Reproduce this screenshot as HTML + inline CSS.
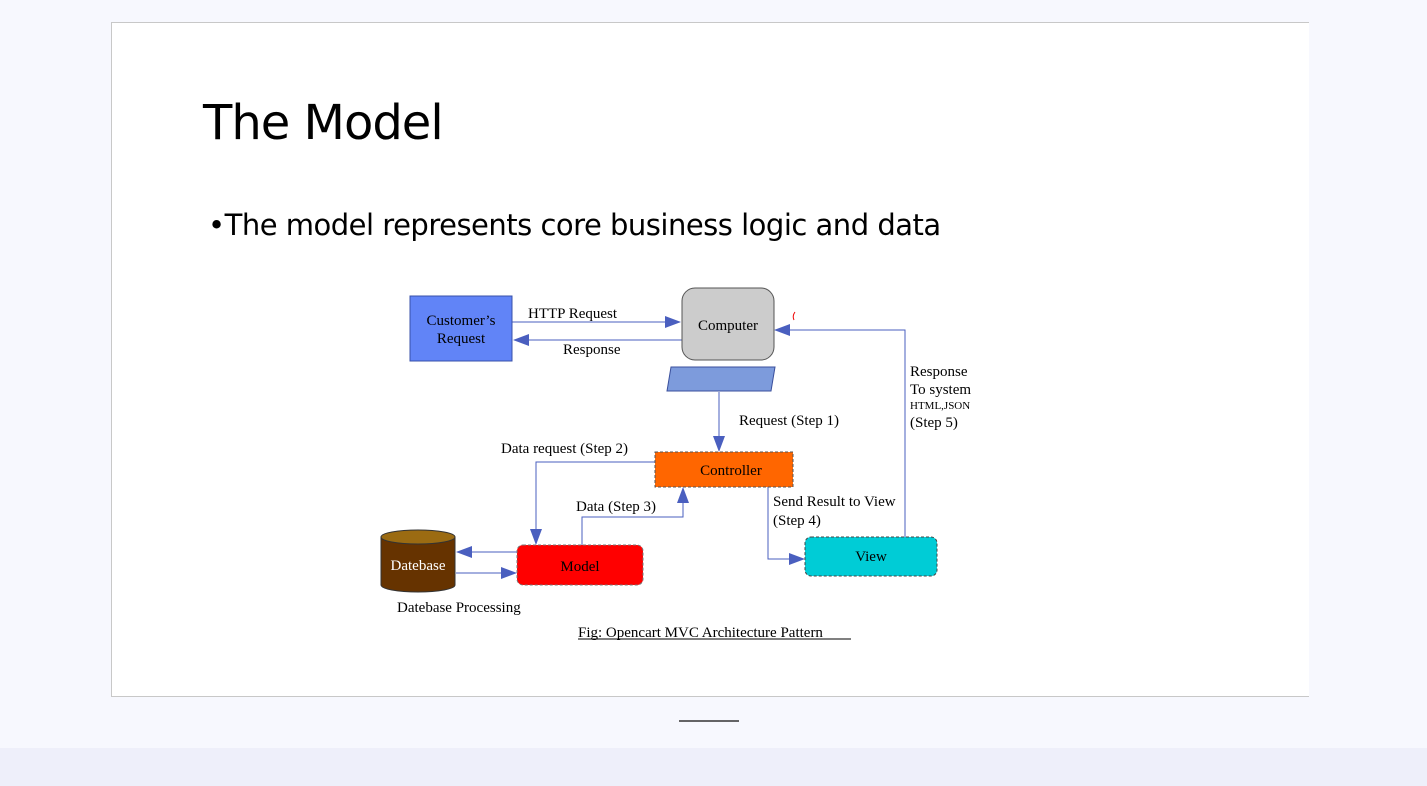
<!DOCTYPE html>
<html><head><meta charset="utf-8"><style>
html,body{margin:0;padding:0;width:1427px;height:786px;overflow:hidden;background:#f7f8fe;font-family:"Liberation Sans",sans-serif}
.band{position:absolute;left:0;top:748px;width:1427px;height:38px;background:#eeeffa}
.slide{position:absolute;left:111px;top:22px;width:1197px;height:673px;background:#fff;border:1px solid #c8c8c8;border-right:none}
.title{position:absolute;left:203px;top:95px;font-size:48px;color:#000;font-family:"DejaVu Sans","Liberation Sans",sans-serif;letter-spacing:-1px}
.bullet{position:absolute;left:208px;top:208px;font-size:29px;color:#000;font-family:"DejaVu Sans","Liberation Sans",sans-serif;letter-spacing:-0.5px}
svg{position:absolute;left:0;top:0}
svg text{font-family:"Liberation Serif",serif;font-size:15px;fill:#000}
</style></head><body>
<div class="band"></div>
<div class="slide"></div>
<div class="title">The Model</div>
<div class="bullet">•The model represents core business logic and data</div>
<svg width="1427" height="786" viewBox="0 0 1427 786">
<defs><marker id="a" markerWidth="16" markerHeight="12" refX="15" refY="6" orient="auto" markerUnits="userSpaceOnUse"><path d="M0,0L16,6L0,12z" fill="#4a5fbf"/></marker></defs>
<g stroke="#4a5fbf" stroke-width="1" fill="none">
<path d="M512,322H680" marker-end="url(#a)"/>
<path d="M682,340H514" marker-end="url(#a)"/>
<path d="M905,537V330H775" marker-end="url(#a)"/>
<path d="M719,392V451" marker-end="url(#a)"/>
<path d="M655,462H536V544" marker-end="url(#a)"/>
<path d="M582,545V517H683V488" marker-end="url(#a)"/>
<path d="M768,487V559H804" marker-end="url(#a)"/>
<path d="M517,552H457" marker-end="url(#a)"/>
<path d="M456,573H516" marker-end="url(#a)"/>
</g>
<rect x="410" y="296" width="102" height="65" fill="#6184f7" stroke="#3850a8"/>
<text x="461" y="325" text-anchor="middle">Customer’s</text>
<text x="461" y="343" text-anchor="middle">Request</text>
<rect x="682" y="288" width="92" height="72" rx="13" fill="#cccccc" stroke="#555"/>
<text x="728" y="330" text-anchor="middle">Computer</text>
<path d="M671,367H775L771,391H667z" fill="#7d9bdc" stroke="#3a4f9c"/>
<rect x="655" y="452" width="138" height="35" fill="#ff6600" stroke="#555" stroke-dasharray="3,2"/>
<text x="731" y="475" text-anchor="middle">Controller</text>
<rect x="517" y="545" width="126" height="40" rx="6" fill="#ff0000" stroke="#777" stroke-dasharray="3,2"/>
<text x="580" y="571" text-anchor="middle">Model</text>
<rect x="805" y="537" width="132" height="39" rx="6" fill="#00ccd6" stroke="#444" stroke-dasharray="3,2"/>
<text x="871" y="561" text-anchor="middle">View</text>
<path d="M381,537V585A37,7 0 0 0 455,585V537" fill="#663300" stroke="#333"/>
<ellipse cx="418" cy="537" rx="37" ry="7" fill="#9b6b12" stroke="#333"/>
<text x="418" y="570" text-anchor="middle" style="fill:#fff">Datebase</text>
<text x="528" y="318">HTTP Request</text>
<text x="563" y="354">Response</text>
<text x="739" y="425">Request (Step 1)</text>
<text x="501" y="453">Data request (Step 2)</text>
<text x="576" y="511">Data (Step 3)</text>
<text x="773" y="506">Send Result to View</text>
<text x="773" y="525">(Step 4)</text>
<text x="910" y="376">Response</text>
<text x="910" y="394">To system</text>
<text x="910" y="409" style="font-size:11px">HTML,JSON</text>
<text x="910" y="427">(Step 5)</text>
<text x="397" y="612">Datebase Processing</text>
<text x="578" y="637">Fig: Opencart MVC Architecture Pattern</text>
<line x1="578" y1="639" x2="851" y2="639" stroke="#000"/>
<path d="M795,312q-3,4 -1,8" stroke="#e00" fill="none"/>
<line x1="679" y1="721" x2="739" y2="721" stroke="#333" stroke-width="1.5"/>
</svg>
</body></html>
